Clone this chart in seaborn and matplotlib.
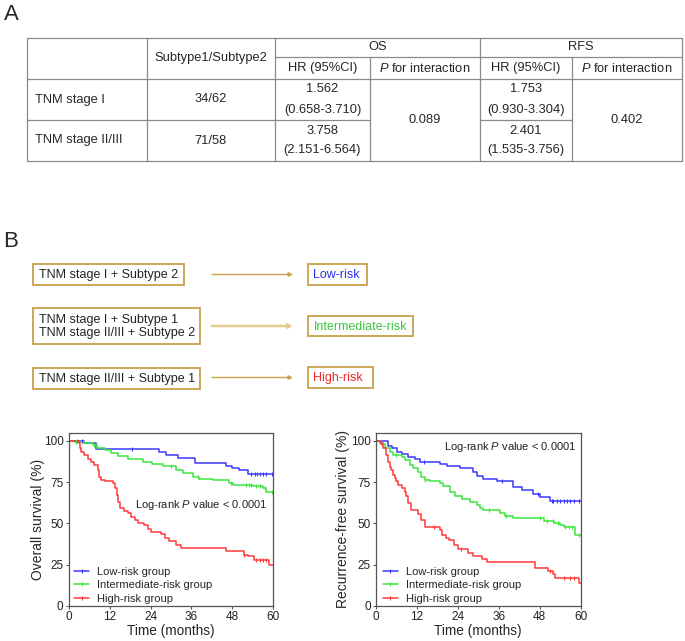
import numpy as np
import pandas as pd
import matplotlib
matplotlib.use("Agg")
import matplotlib.pyplot as plt
import seaborn as sns
from matplotlib.patches import Rectangle
from matplotlib.lines import Line2D

# ---------------- data ----------------
header_main = ["Subtype1/Subtype2", "OS", "RFS"]
header_sub = ["HR (95%CI)", "$P$ for interaction", "HR (95%CI)", "$P$ for interaction"]
row_labels = ["TNM stage I", "TNM stage II/III"]
subtype_ratio = ["34/62", "71/58"]
os_hr = ["1.562", "3.758"]
os_ci = ["(0.658-3.710)", "(2.151-6.564)"]
os_p = "0.089"
rfs_hr = ["1.753", "2.401"]
rfs_ci = ["(0.930-3.304)", "(1.535-3.756)"]
rfs_p = "0.402"

flow_left = [["TNM stage I + Subtype 2"],
             ["TNM stage I + Subtype 1", "TNM stage II/III + Subtype 2"],
             ["TNM stage II/III + Subtype 1"]]
flow_right = ["Low-risk", "Intermediate-risk", "High-risk"]

groups = ["Low-risk group", "Intermediate-risk group", "High-risk group"]

# Overall survival step curves (time in months, survival %)
os_low_t = [0, 4.5, 8, 26.5, 28.5, 32, 37, 46, 48, 50, 52.5, 60]
os_low_s = [100, 98.8, 95.2, 93.2, 91.2, 89.8, 86.7, 85, 83.6, 82.2, 80.2, 80.2]
os_low_c = [3.8, 18.5, 53.5, 54.5, 55.3, 56, 57, 58, 59.5]

os_mid_t = [0, 1.8, 4.5, 7.2, 8.2, 10.5, 12.5, 14.5, 17.5, 21.7, 24.5, 27.6, 31.5,
            33.5, 36.4, 38.3, 42.2, 47.1, 48.1, 54, 56.9, 57.9, 60]
os_mid_s = [100, 99.3, 98.5, 97.3, 95.8, 94.3, 92.8, 91, 88.9, 87.5, 86.2, 84.5, 82.6,
            80.5, 78.2, 77.2, 76, 74.3, 73, 72.8, 71.3, 68.9, 68.9]
os_mid_c = [2, 7.5, 30, 38, 47.5, 52, 53, 53.5, 55, 56, 57.5, 59.5]

os_high_t = [0, 2.9, 3.3, 3.7, 4.6, 5.6, 6.5, 7.5, 8.5, 9.0, 9.5, 10.5, 12.9, 13.7, 14.1,
             14.6, 15.1, 16.3, 17.3, 18.3, 19.3, 20.2, 22.2, 23.2, 24.1, 27.1, 28.1, 29.5,
             31.5, 32.9, 46.1, 51.5, 52.5, 54.4, 58.8, 60]
os_high_s = [100, 98.6, 96, 93.5, 91.5, 89, 87.5, 85.5, 82.4, 78.4, 76.4, 75.4, 74.3, 71.3,
             67.3, 63.2, 59.6, 57.6, 56.2, 54.1, 52.1, 50.1, 48.7, 46.7, 45, 43.4, 41, 39,
             37, 35, 32.9, 30.9, 29.9, 27.9, 24.8, 24.8]
os_high_c = [2.5, 51.5, 55, 56, 57, 58]

# Recurrence-free survival step curves
rfs_low_t = [0, 3.6, 4.6, 6.1, 7.5, 9.5, 11.4, 12.9, 18.8, 20.7, 24.6, 28.5, 29.5, 31.5,
             35.4, 40.3, 42.7, 46.1, 48.1, 51, 60]
rfs_low_s = [100, 97, 95.5, 93.5, 92, 90.5, 89, 87.5, 86, 85, 83.5, 81, 79, 77,
             75.5, 72, 70, 67.5, 66, 63.5, 63.5]
rfs_low_c = [14, 37, 47.5, 51.5, 52, 53, 54, 55, 56, 57, 58, 59.5]

rfs_mid_t = [0, 1.1, 1.6, 2.6, 4, 5, 7.5, 8.4, 9.9, 10.9, 12.4, 13.3, 14.3, 15.8, 18.7,
             19.7, 21.7, 23.2, 25.1, 27.6, 29.5, 30.5, 31.5, 36.4, 37.9, 40.3, 49.2, 52.1,
             54.1, 55.1, 58.5, 60]
rfs_mid_s = [100, 99, 98, 95.6, 93.5, 91.5, 90, 88.5, 85.5, 83.8, 81.4, 78.4, 76.4, 75.4, 74.3,
             72.9, 69.3, 66.3, 64.8, 63.2, 61.2, 59.2, 58.2, 56.2, 54.7, 53.5, 51.5, 50.1,
             49.1, 47.9, 43, 43]
rfs_mid_c = [6, 14.5, 33, 38, 48, 50, 52, 53.5, 55.5, 56.5, 57.5, 59.5]

rfs_high_t = [0, 1.1, 2.1, 3, 3.5, 4, 4.5, 5, 5.5, 6, 6.5, 7.5, 8.4, 8.9, 9.4, 10.4, 12.4,
              13.3, 14.3, 18.8, 19.5, 20.5, 21.5, 23, 24, 27, 28.5, 31, 32.5, 46.5, 50.5,
              52, 52.5, 59.5, 60]
rfs_high_s = [100, 98.6, 95.6, 91.5, 87.5, 84.4, 82.4, 79.4, 77.4, 75.4, 73.3, 71.3, 69.3,
              66.3, 62.2, 58.2, 55.5, 52, 48, 46, 43, 41, 40, 37, 34.5, 32, 30, 28.5, 26.5,
              22.6, 21, 19, 17, 14, 14]
rfs_high_c = [1.5, 17, 25, 51, 55, 57, 58]

x_ticks = [0, 12, 24, 36, 48, 60]
y_ticks = [0, 25, 50, 75, 100]

# ---------------- style ----------------
sns.set_style("ticks")
plt.rcParams["font.family"] = ["Liberation Sans", "DejaVu Sans"]
plt.rcParams["mathtext.fontset"] = "custom"
plt.rcParams["mathtext.rm"] = "Liberation Sans"
plt.rcParams["mathtext.it"] = "Liberation Sans:italic"

line_colors = ["#3a3aff", "#3ee63e", "#ff3b3b"]
text_colors = ["#2f2ff0", "#3cc83c", "#f02828"]
gold = "#c8a04a"
grid_c = "#8a8a8a"

W, H = 685, 641
fig = plt.figure(figsize=(W / 100, H / 100), dpi=100)
ov = fig.add_axes([0, 0, 1, 1])
ov.set_xlim(0, W)
ov.set_ylim(H, 0)
ov.axis("off")

# ---------------- panel A: table ----------------
ov.text(4, 4, "A", fontsize=16, va="top", ha="left")
xs = [27, 146.7, 275, 370, 480, 572, 682]
ys = [37.5, 57, 79, 120, 161]
lw = 0.9
for y in [ys[0], ys[2], ys[4]]:
    ov.plot([xs[0], xs[6]], [y, y], color=grid_c, lw=lw)
ov.plot([xs[2], xs[6]], [ys[1], ys[1]], color=grid_c, lw=lw)
ov.plot([xs[0], xs[3]], [ys[3], ys[3]], color=grid_c, lw=lw)
ov.plot([xs[4], xs[5]], [ys[3], ys[3]], color=grid_c, lw=lw)
for x in [xs[0], xs[1], xs[2], xs[4], xs[6]]:
    ov.plot([x, x], [ys[0], ys[4]], color=grid_c, lw=lw)
for x in [xs[3], xs[5]]:
    ov.plot([x, x], [ys[1], ys[4]], color=grid_c, lw=lw)

fs_t = 9.3
ov.text((xs[1] + xs[2]) / 2, (ys[0] + ys[2]) / 2, header_main[0], ha="center", va="center", fontsize=fs_t)
ov.text((xs[2] + xs[4]) / 2, (ys[0] + ys[1]) / 2, header_main[1], ha="center", va="center", fontsize=fs_t)
ov.text((xs[4] + xs[6]) / 2, (ys[0] + ys[1]) / 2, header_main[2], ha="center", va="center", fontsize=fs_t)
for i, lab in enumerate(header_sub):
    ov.text((xs[2 + i] + xs[3 + i]) / 2, (ys[1] + ys[2]) / 2 + 0.5, lab, ha="center", va="center", fontsize=fs_t)
for r in range(2):
    y0, y1 = ys[2 + r], ys[3 + r]
    yc = (y0 + y1) / 2
    ov.text(xs[0] + 8, yc, row_labels[r], ha="left", va="center", fontsize=fs_t)
    ov.text((xs[1] + xs[2]) / 2, yc, subtype_ratio[r], ha="center", va="center", fontsize=fs_t)
    ov.text((xs[2] + xs[3]) / 2, yc - 10, os_hr[r], ha="center", va="center", fontsize=fs_t)
    ov.text((xs[2] + xs[3]) / 2, yc + 10, os_ci[r], ha="center", va="center", fontsize=fs_t)
    ov.text((xs[4] + xs[5]) / 2, yc - 10, rfs_hr[r], ha="center", va="center", fontsize=fs_t)
    ov.text((xs[4] + xs[5]) / 2, yc + 10, rfs_ci[r], ha="center", va="center", fontsize=fs_t)
ov.text((xs[3] + xs[4]) / 2, (ys[2] + ys[4]) / 2, os_p, ha="center", va="center", fontsize=fs_t)
ov.text((xs[5] + xs[6]) / 2, (ys[2] + ys[4]) / 2, rfs_p, ha="center", va="center", fontsize=fs_t)

# ---------------- panel B: flow ----------------
ov.text(3, 231, "B", fontsize=16, va="top", ha="left")
left_boxes = [(32.7, 264, 184.3, 285), (32.7, 308, 200, 344), (32.7, 368, 200, 389)]
right_boxes = [(308, 264, 367, 285), (308, 316, 413, 336), (308, 367, 373, 388)]
arrow_y = [274.5, 326, 377.5]
arrow_c = [gold, "#e2cb8c", gold]
arrow_w = [1.0, 1.8, 1.0]
for i in range(3):
    x0, y0, x1, y1 = left_boxes[i]
    ov.add_patch(Rectangle((x0, y0), x1 - x0, y1 - y0, fill=False, ec=gold, lw=1.3))
    lines = flow_left[i]
    if len(lines) == 1:
        ov.text(x0 + 6, (y0 + y1) / 2 + 0.5, lines[0], ha="left", va="center", fontsize=9, color="#222222")
    else:
        ov.text(x0 + 6, 320, lines[0], ha="left", va="center", fontsize=9, color="#222222")
        ov.text(x0 + 6, 333.3, lines[1], ha="left", va="center", fontsize=9, color="#222222")
    x0, y0, x1, y1 = right_boxes[i]
    ov.add_patch(Rectangle((x0, y0), x1 - x0, y1 - y0, fill=False, ec=gold, lw=1.3))
    ov.text(x0 + 5.5, (y0 + y1) / 2 + 0.5, flow_right[i], ha="left", va="center", fontsize=9, color=text_colors[i])
    ov.annotate("", xy=(293, arrow_y[i]), xytext=(212, arrow_y[i]),
                arrowprops=dict(arrowstyle="-|>", color=arrow_c[i], lw=arrow_w[i],
                                mutation_scale=6, shrinkA=0, shrinkB=0))


# ---------------- KM panels ----------------
def km_panel(rect, curves, censors, ylabel, lab_x, logrank_xy, legend_x):
    ax = fig.add_axes(rect)
    frames = []
    for g, (t, s) in zip(groups, curves):
        frames.append(pd.DataFrame({"time": t, "surv": s, "group": g}))
    df = pd.concat(frames, ignore_index=True)
    sns.lineplot(data=df, x="time", y="surv", hue="group", hue_order=groups,
                 palette=line_colors, drawstyle="steps-post", estimator=None,
                 legend=False, linewidth=1.1, ax=ax)
    for (t, s), c, col in zip(curves, censors, line_colors):
        idx = np.searchsorted(np.array(t), np.array(c), side="right") - 1
        cs = np.array(s)[idx]
        ax.plot(c, cs, linestyle="none", marker="|", color=col, ms=3.5, mew=0.8)
    ax.set_xlim(0, 60)
    ax.set_ylim(0, 105)
    ax.set_xticks(x_ticks)
    ax.set_yticks(y_ticks)
    for sp in ax.spines.values():
        sp.set_color("#555555")
        sp.set_linewidth(0.9)
    ax.tick_params(length=2.5, width=0.8, color="#555555", labelsize=8.5, pad=1.2, labelcolor="#222222")
    ax.set_xlabel("Time (months)", fontsize=9.8, labelpad=0.5)
    ax.set_ylabel(ylabel, fontsize=10)
    ax.yaxis.set_label_coords(lab_x, 0.5)
    ax.text(logrank_xy[0], logrank_xy[1], "Log-rank $P$ value < 0.0001", transform=ax.transAxes,
            ha="left", va="center", fontsize=8, color="#222222")
    handles = [Line2D([], [], color=col, lw=1.1, marker="|", ms=3.5, mew=0.8) for col in line_colors]
    ax.legend(handles, groups, loc="lower left", bbox_to_anchor=(legend_x, 0.012), frameon=False,
              fontsize=8, handlelength=1.35, handletextpad=0.7, labelspacing=0.3,
              borderpad=0, borderaxespad=0)
    return ax


ax_h = 173 / H
ax_w = 204.6 / W
ax_b = 1 - 605.7 / H
km_panel([68.7 / W, ax_b, ax_w, ax_h],
         [(os_low_t, os_low_s), (os_mid_t, os_mid_s), (os_high_t, os_high_s)],
         [os_low_c, os_mid_c, os_high_c],
         "Overall survival (%)", -0.114, (0.324, 0.582), 0.026)
km_panel([376 / W, ax_b, ax_w, ax_h],
         [(rfs_low_t, rfs_low_s), (rfs_mid_t, rfs_mid_s), (rfs_high_t, rfs_high_s)],
         [rfs_low_c, rfs_mid_c, rfs_high_c],
         "Recurrence-free survival (%)", -0.125, (0.332, 0.919), 0.033)

fig.savefig("out.png", dpi=100)
